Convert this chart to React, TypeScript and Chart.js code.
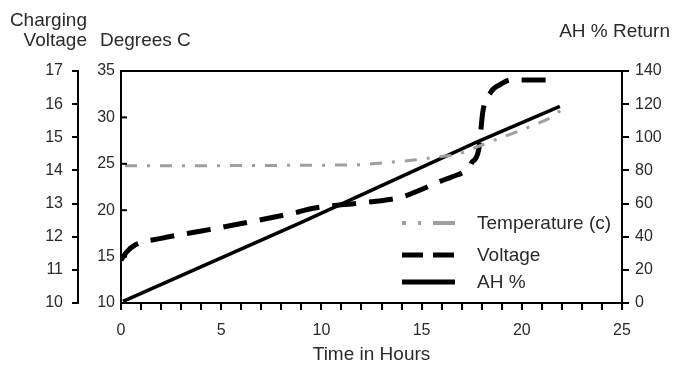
import React, { useEffect, useRef } from "react";
import { Chart, registerables } from "chart.js";

Chart.register(...registerables);

// ---- data ----
const voltageHours = [0, 0.3, 0.7, 2, 5, 8.8, 9.6, 12.3, 14, 16.1, 16.5, 17.35, 17.5, 17.85, 17.95, 18.05, 18.45, 18.95, 19.45, 20.3, 21.5];
const voltageValues = [11.3, 11.55, 11.75, 11.95, 12.28, 12.74, 12.86, 13.04, 13.2, 13.71, 13.8, 14.08, 14.23, 14.63, 15.17, 15.75, 16.36, 16.6, 16.73, 16.73, 16.73];

const tempHours = [0.2, 5, 10, 12, 13.1, 14.6, 16.8, 18.45, 19.45, 20.3, 21.3, 22.05];
const tempValues = [24.8, 24.8, 24.85, 24.9, 25.1, 25.4, 26.0, 27.4, 28.2, 28.9, 29.8, 30.9];

const ahHours = [0.1, 9, 17.8, 21.9];
const ahValues = [1, 48.7, 97.4, 118.7];

const seriesNames = ["Temperature (c)", "Voltage", "AH %"];
const xTitle = "Time in Hours";
const voltageTitle = ["Charging", "Voltage"];
const degreesTitle = "Degrees C";
const ahTitle = "AH % Return";

const FONT = '"Liberation Sans", Arial, Helvetica, sans-serif';
const TEXT = "#2a2a2a";
const TEMP_COLOR = "#9f9f9f";

const toPoints = (xs: number[], ys: number[]) => xs.map((x, i) => ({ x, y: ys[i] }));

const extrasPlugin = {
  id: "extras",
  afterDraw(chart: any) {
    const { ctx, chartArea } = chart;
    const yT = chart.scales.yT;
    ctx.save();
    // top frame line
    ctx.strokeStyle = "#000";
    ctx.lineWidth = 2;
    ctx.beginPath();
    ctx.moveTo(chartArea.left - 1, chartArea.top);
    ctx.lineTo(chartArea.right + 1, chartArea.top);
    ctx.stroke();
    // inward ticks of degrees axis
    for (const v of yT.ticks) {
      const y = yT.getPixelForValue(v.value);
      ctx.beginPath();
      ctx.moveTo(chartArea.left, y);
      ctx.lineTo(chartArea.left + 6, y);
      ctx.stroke();
    }
    // titles
    ctx.fillStyle = TEXT;
    ctx.font = `19px ${FONT}`;
    ctx.textBaseline = "alphabetic";
    ctx.textAlign = "right";
    ctx.fillText(voltageTitle[0], 87, 26);
    ctx.fillText(voltageTitle[1], 87, 46);
    ctx.textAlign = "left";
    ctx.fillText(degreesTitle, 100, 46);
    ctx.textAlign = "right";
    ctx.fillText(ahTitle, 670, 37);

    // legend
    const lx0 = 402, lx1 = 455, tx = 477;
    const rows = [223, 255, 282];
    const styles = [
      { color: TEMP_COLOR, dash: [4, 12, 3, 12, 18, 0], width: 4 },
      { color: "#000", dash: [21, 10], width: 5 },
      { color: "#000", dash: [], width: 5 },
    ];
    rows.forEach((y, i) => {
      const s = styles[i];
      ctx.strokeStyle = s.color;
      ctx.lineWidth = s.width;
      ctx.setLineDash(s.dash);
      ctx.beginPath();
      ctx.moveTo(lx0, y);
      ctx.lineTo(lx1, y);
      ctx.stroke();
      ctx.setLineDash([]);
      ctx.fillStyle = TEXT;
      ctx.textAlign = "left";
      ctx.textBaseline = "middle";
      ctx.fillText(seriesNames[i], tx, y + 1);
    });
    ctx.restore();
  },
};

export default function App() {
  const ref = useRef<HTMLCanvasElement | null>(null);

  useEffect(() => {
    document.body.style.margin = "0";
    const canvas = ref.current;
    if (!canvas) return;
    const tickFont = { family: FONT, size: 16 };
    const chart = new Chart(canvas, {
      type: "line",
      data: {
        datasets: [
          {
            label: seriesNames[0],
            data: toPoints(tempHours, tempValues),
            yAxisID: "yT",
            borderColor: TEMP_COLOR,
            borderWidth: 3,
            borderDash: [12, 10, 3, 10],
            pointRadius: 0,
            fill: false,
            tension: 0,
          },
          {
            label: seriesNames[1],
            data: toPoints(voltageHours, voltageValues),
            yAxisID: "yV",
            borderColor: "#000",
            borderWidth: 5,
            borderDash: [24, 13],
            pointRadius: 0,
            fill: false,
            cubicInterpolationMode: "monotone",
          },
          {
            label: seriesNames[2],
            data: toPoints(ahHours, ahValues),
            yAxisID: "yA",
            borderColor: "#000",
            borderWidth: 3.5,
            pointRadius: 0,
            fill: false,
            tension: 0,
          },
        ],
      },
      options: {
        animation: false,
        responsive: false,
        devicePixelRatio: 1,
        layout: { padding: { top: 71, bottom: 0, left: 0, right: 0 } },
        plugins: { legend: { display: false }, tooltip: { enabled: false } },
        scales: {
          x: {
            type: "linear",
            position: "bottom",
            min: 0,
            max: 25,
            ticks: {
              stepSize: 1,
              autoSkip: false,
              maxRotation: 0,
              color: TEXT,
              font: tickFont,
              padding: 11,
              callback: (v: any) => (Number(v) % 5 === 0 ? String(v) : ""),
            },
            grid: { drawOnChartArea: false, color: "#000", lineWidth: 2, tickLength: 7 },
            border: { color: "#000", width: 2 },
            title: {
              display: true,
              text: xTitle,
              color: TEXT,
              font: { family: FONT, size: 19 },
              padding: { top: 0, bottom: 0 },
            },
            afterFit: (s: any) => {
              s.height = 63;
            },
          },
          yV: {
            type: "linear",
            position: "left",
            weight: 2,
            min: 10,
            max: 17,
            ticks: { stepSize: 1, color: TEXT, font: tickFont, padding: 9 },
            grid: { drawOnChartArea: false, color: "#000", lineWidth: 2, tickLength: 6 },
            border: { color: "#000", width: 2 },
            afterFit: (s: any) => {
              s.width = 78;
            },
          },
          yT: {
            type: "linear",
            position: "left",
            weight: 1,
            min: 10,
            max: 35,
            ticks: { stepSize: 5, color: TEXT, font: tickFont, padding: 6 },
            grid: { drawOnChartArea: false, drawTicks: false, color: "#000" },
            border: { color: "#000", width: 2 },
            afterFit: (s: any) => {
              s.width = 43;
            },
          },
          yA: {
            type: "linear",
            position: "right",
            min: 0,
            max: 140,
            ticks: { stepSize: 20, color: TEXT, font: tickFont, padding: 6 },
            grid: { drawOnChartArea: false, color: "#000", lineWidth: 2, tickLength: 7 },
            border: { color: "#000", width: 2 },
            afterFit: (s: any) => {
              s.width = 55;
            },
          },
        },
      },
      plugins: [extrasPlugin],
    } as any);
    return () => chart.destroy();
  }, []);

  return (
    <div style={{ width: 677, height: 366 }}>
      <canvas ref={ref} width={677} height={366} style={{ display: "block" }} />
    </div>
  );
}
